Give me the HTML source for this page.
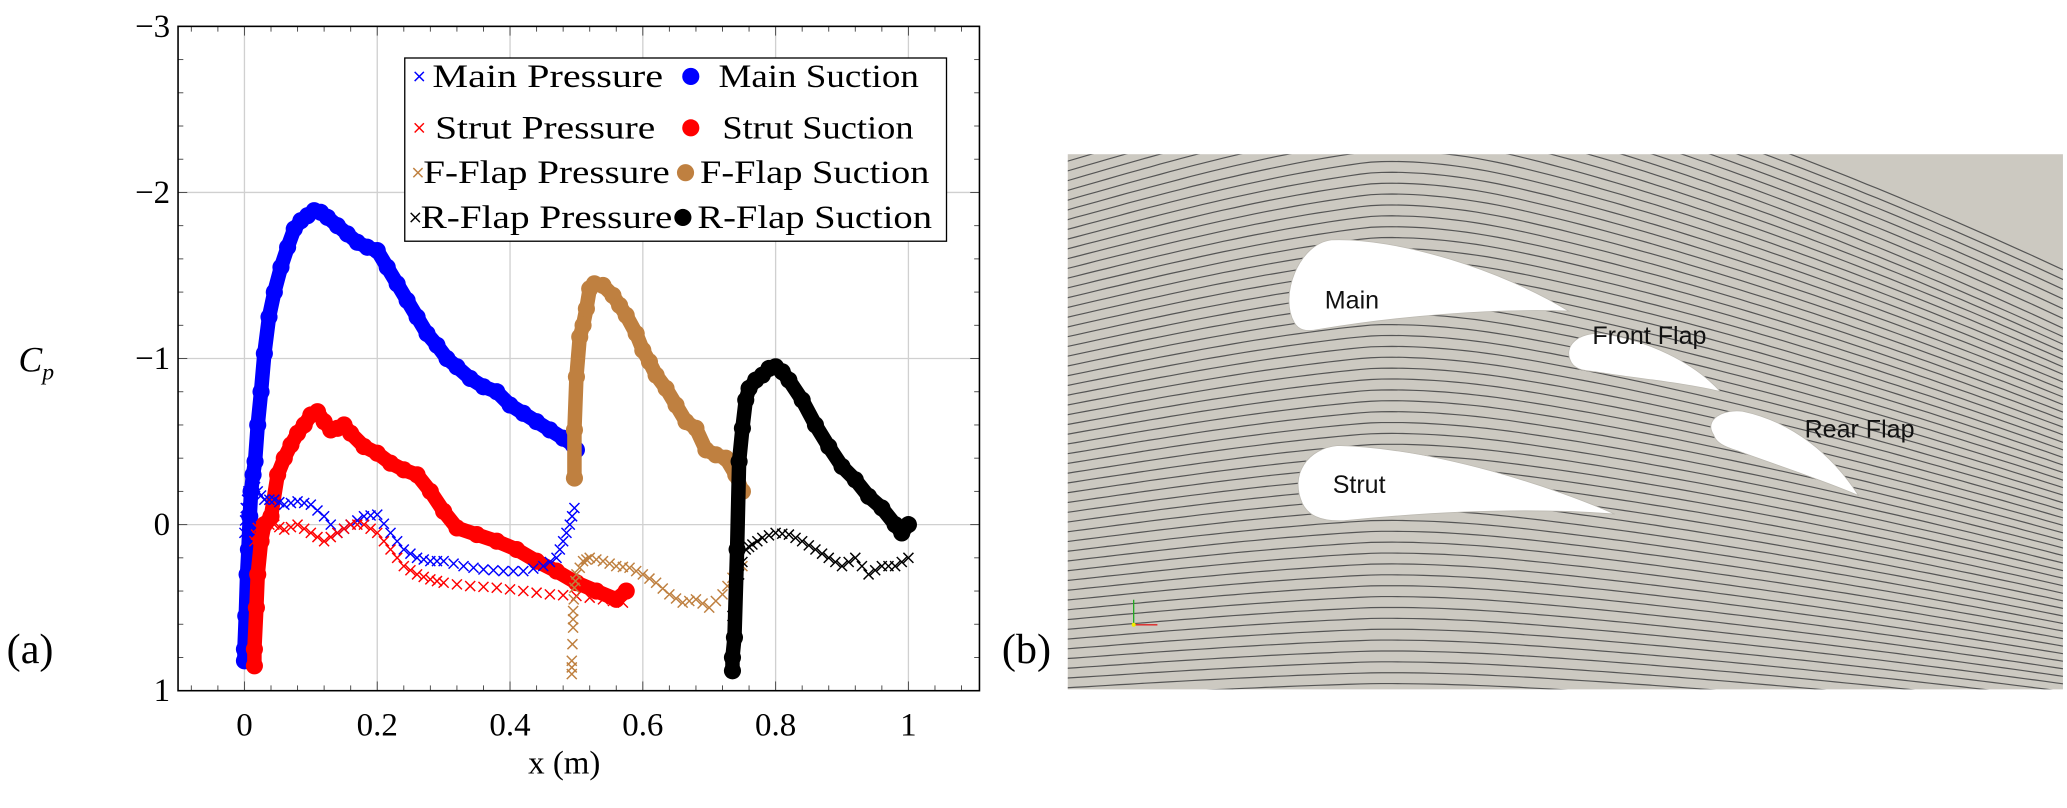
<!DOCTYPE html>
<html><head><meta charset="utf-8"><style>
html,body{margin:0;padding:0;background:#fff;overflow:hidden;width:2067px;height:808px;}
svg{display:block;}
.serif{font-family:"Liberation Serif",serif;}
.sans{font-family:"Liberation Sans",sans-serif;}
</style></head><body>
<svg id="fig" xmlns="http://www.w3.org/2000/svg" width="2067" height="808" viewBox="0 0 1568 613">
<g id="chart"></g>
<g id="flow"></g>
</svg>
<script>
// ---- chart data ----
const mainSucX=[0.000,0.000,0.002,0.004,0.006,0.008,0.010,0.013,0.016,0.020,0.025,0.030,0.037,0.045,0.055,0.065,0.075,0.085,0.095,0.105,0.115,0.125,0.140,0.155,0.170,0.185,0.200,0.215,0.230,0.245,0.260,0.275,0.290,0.305,0.320,0.340,0.360,0.380,0.400,0.420,0.440,0.460,0.480,0.495,0.500];
const mainSucY=[0.82,0.75,0.55,0.30,0.15,-0.05,-0.20,-0.30,-0.38,-0.60,-0.80,-1.03,-1.25,-1.40,-1.55,-1.67,-1.78,-1.83,-1.86,-1.89,-1.88,-1.85,-1.80,-1.75,-1.70,-1.67,-1.65,-1.55,-1.45,-1.35,-1.25,-1.15,-1.08,-1.00,-0.95,-0.88,-0.83,-0.80,-0.72,-0.67,-0.62,-0.57,-0.52,-0.48,-0.45];
const mainPreX=[0.000,0.002,0.006,0.012,0.020,0.030,0.045,0.060,0.080,0.100,0.120,0.140,0.160,0.180,0.200,0.220,0.240,0.260,0.280,0.300,0.330,0.360,0.390,0.420,0.450,0.470,0.480,0.490,0.497];
const mainPreY=[0.05,-0.10,-0.20,-0.25,-0.20,-0.15,-0.15,-0.12,-0.14,-0.12,-0.05,0.05,0.00,-0.05,-0.06,0.05,0.15,0.20,0.22,0.22,0.25,0.27,0.28,0.28,0.25,0.20,0.10,0.00,-0.10];
const strutSucX=[0.015,0.015,0.018,0.020,0.025,0.030,0.040,0.050,0.060,0.070,0.080,0.090,0.100,0.110,0.120,0.130,0.140,0.150,0.160,0.180,0.200,0.220,0.240,0.260,0.280,0.300,0.320,0.350,0.380,0.410,0.440,0.470,0.500,0.530,0.560,0.575];
const strutSucY=[0.85,0.75,0.50,0.30,0.10,0.00,-0.05,-0.30,-0.40,-0.48,-0.55,-0.60,-0.66,-0.68,-0.62,-0.57,-0.58,-0.60,-0.55,-0.47,-0.43,-0.37,-0.33,-0.30,-0.20,-0.08,0.02,0.06,0.10,0.15,0.22,0.28,0.35,0.40,0.45,0.40];
const strutPreX=[0.015,0.020,0.030,0.045,0.060,0.080,0.100,0.120,0.140,0.160,0.180,0.200,0.220,0.240,0.260,0.280,0.300,0.340,0.380,0.420,0.460,0.500,0.540,0.570];
const strutPreY=[0.10,0.02,0.00,0.00,0.03,0.00,0.05,0.10,0.05,0.00,0.00,0.05,0.15,0.25,0.30,0.33,0.35,0.37,0.38,0.40,0.42,0.43,0.45,0.47];
const fflapSucX=[0.497,0.497,0.500,0.505,0.510,0.515,0.520,0.527,0.540,0.555,0.565,0.575,0.590,0.600,0.610,0.620,0.635,0.650,0.665,0.680,0.695,0.710,0.725,0.740,0.750];
const fflapSucY=[-0.28,-0.57,-0.89,-1.13,-1.20,-1.30,-1.42,-1.45,-1.44,-1.38,-1.32,-1.26,-1.15,-1.05,-0.98,-0.90,-0.82,-0.72,-0.62,-0.58,-0.45,-0.42,-0.40,-0.30,-0.20];
const fflapPreX=[0.493,0.493,0.495,0.495,0.497,0.500,0.510,0.520,0.540,0.560,0.580,0.600,0.620,0.640,0.660,0.680,0.700,0.720,0.735,0.750];
const fflapPreY=[0.90,0.82,0.62,0.52,0.38,0.30,0.22,0.20,0.22,0.25,0.26,0.30,0.35,0.42,0.47,0.45,0.50,0.42,0.32,0.25];
const rflapSucX=[0.735,0.735,0.738,0.742,0.745,0.750,0.755,0.760,0.770,0.780,0.790,0.800,0.810,0.820,0.840,0.860,0.880,0.900,0.920,0.940,0.960,0.980,0.990,1.000];
const rflapSucY=[0.88,0.80,0.68,0.15,-0.38,-0.58,-0.75,-0.82,-0.87,-0.90,-0.94,-0.95,-0.92,-0.87,-0.75,-0.60,-0.47,-0.35,-0.27,-0.17,-0.10,0.00,0.05,0.00];
const rflapPreX=[0.735,0.745,0.755,0.765,0.780,0.800,0.820,0.840,0.860,0.880,0.900,0.920,0.940,0.960,0.980,1.000];
const rflapPreY=[0.55,0.30,0.15,0.12,0.08,0.05,0.06,0.10,0.15,0.20,0.25,0.20,0.30,0.25,0.25,0.20];
const xTicks=[0,0.2,0.4,0.6,0.8,1];
const xTickLabels=["0","0.2","0.4","0.6","0.8","1"];
const yTicks=[-3,-2,-1,0,1];
const yTickLabels=["\u22123","\u22122","\u22121","0","1"];
const legendLabels=["Main Pressure","Main Suction","Strut Pressure","Strut Suction","F-Flap Pressure","F-Flap Suction","R-Flap Pressure","R-Flap Suction"];

const NS="http://www.w3.org/2000/svg";
const L=135,R=743,T=20,B=524,XMIN=-0.1,XMAX=1.107,YMIN=-3,YMAX=1;
const sx=v=>L+(v-XMIN)/(XMAX-XMIN)*(R-L);
const sy=v=>T+(v-YMIN)/(YMAX-YMIN)*(B-T);
function mk(tag,attrs,parent){const e=document.createElementNS(NS,tag);for(const k in attrs)e.setAttribute(k,attrs[k]);parent.appendChild(e);return e;}
const chart=document.getElementById('chart');

xTicks.forEach(v=>{const g=mk('line',{x1:sx(v),x2:sx(v),y1:T,y2:B,stroke:'#d0d0d0','stroke-width':1},chart);

});
yTicks.forEach(v=>{const g=mk('line',{x1:L,x2:R,y1:sy(v),y2:sy(v),stroke:'#d0d0d0','stroke-width':1},chart);

});
for(let i=-2;i<=27;i++){const v=i*0.04;if(v<XMIN||v>XMAX)continue;const maj=Math.abs(v*5-Math.round(v*5))<1e-6;const len=maj?7:4;
mk('line',{x1:sx(v),x2:sx(v),y1:B,y2:B-len,stroke:'#444','stroke-width':0.7},chart);
mk('line',{x1:sx(v),x2:sx(v),y1:T,y2:T+len,stroke:'#444','stroke-width':0.7},chart);}
for(let i=-15;i<=5;i++){const v=i*0.2;const maj=Math.abs(v-Math.round(v))<1e-6;const len=maj?7:4;
mk('line',{x1:L,x2:L+len,y1:sy(v),y2:sy(v),stroke:'#444','stroke-width':0.7},chart);
mk('line',{x1:R,x2:R-len,y1:sy(v),y2:sy(v),stroke:'#444','stroke-width':0.7},chart);}

function cross(x,y,c,s,par){return mk('path',{d:`M${x-s},${y-s}L${x+s},${y+s}M${x-s},${y+s}L${x+s},${y-s}`,stroke:c,'stroke-width':1.1,fill:'none'},par);}
function drawSuction(xs,ys,c,name){const g=mk('g',{},chart);


mk('polyline',{points:xs.map((x,i)=>sx(x)+','+sy(ys[i])).join(' '),fill:'none',stroke:c,'stroke-width':11,'stroke-linejoin':'round','stroke-linecap':'round'},g);
xs.forEach((x,i)=>{const p=mk('circle',{cx:sx(x),cy:sy(ys[i]),r:6.5,fill:c},g);

});}
function drawPressure(xs,ys,c,name){const g=mk('g',{},chart);


xs.forEach((x,i)=>{const p=cross(sx(x),sy(ys[i]),c,3.8,g);


if(i<xs.length-1){const xm=(x+xs[i+1])/2,ym=(ys[i]+ys[i+1])/2;const q=cross(sx(xm),sy(ym),c,3.8,g);

}});}
const BLUE='#0000ff',RED='#ff0000',TAN='#bf8040',BLK='#000';
drawSuction(mainSucX,mainSucY,BLUE,'main-suction-series');
drawSuction(strutSucX,strutSucY,RED,'strut-suction-series');
drawPressure(mainPreX,mainPreY,BLUE,'main-pressure-series');
drawPressure(strutPreX,strutPreY,RED,'strut-pressure-series');
drawSuction(fflapSucX,fflapSucY,TAN,'fflap-suction-series');
drawPressure(fflapPreX,fflapPreY,TAN,'fflap-pressure-series');
drawSuction(rflapSucX,rflapSucY,BLK,'rflap-suction-series');
drawPressure(rflapPreX,rflapPreY,BLK,'rflap-pressure-series');

const fr=mk('rect',{x:L,y:T,width:R-L,height:B-T,fill:'none',stroke:'#000','stroke-width':1.2},chart);


xTicks.forEach((v,i)=>{const t=mk('text',{x:sx(v),y:B+34,'text-anchor':'middle','font-size':25,class:'serif'},chart);t.textContent=xTickLabels[i];

});
yTicks.forEach((v,i)=>{const t=mk('text',{x:L-6,y:sy(v)+8,'text-anchor':'end','font-size':25,class:'serif'},chart);t.textContent=yTickLabels[i];

});

// legend
const lg=mk('g',{},chart);


mk('rect',{x:307,y:44,width:411,height:139,fill:'#fff',stroke:'#000','stroke-width':1},lg);
const cols=[BLUE,RED,TAN,BLK];
const rowY=[58,97,131,165];
const crossX=[318,318,317,315];
const preX=[328,330,321,319], preW=[175,167,187,191];
const dotX=[524,524,520,518];
const sucX=[545,548,531,529], sucW=[152,145,174,178];
for(let r=0;r<4;r++){const y=rowY[r];
const c1=cross(crossX[r],y,cols[r],3.5,lg);


const t1=mk('text',{x:preX[r],y:y+8,'font-size':25,class:'serif',textLength:preW[r],lengthAdjust:'spacingAndGlyphs'},lg);t1.textContent=legendLabels[r*2];


const c2=mk('circle',{cx:dotX[r],cy:y,r:6.5,fill:cols[r]},lg);


const t2=mk('text',{x:sucX[r],y:y+8,'font-size':25,class:'serif',textLength:sucW[r],lengthAdjust:'spacingAndGlyphs'},lg);t2.textContent=legendLabels[r*2+1];

}

let t=mk('text',{x:14,y:282,'font-size':27,'font-style':'italic',class:'serif'},chart);t.innerHTML='C<tspan font-size="18" dy="6">p</tspan>';


t=mk('text',{x:428,y:587,'text-anchor':'middle','font-size':25,class:'serif'},chart);t.textContent='x (m)';


t=mk('text',{x:5,y:503,'font-size':32,class:'serif'},chart);t.textContent='(a)';


t=mk('text',{x:760,y:503,'font-size':32,class:'serif'},document.getElementById('flow'));t.textContent='(b)';



// ---- streamline panel ----
const flow=document.getElementById('flow');
const PX0=810,PX1=1565,PY0=117,PY1=523;
const clip=mk('clipPath',{id:'pc'},flow);mk('rect',{x:PX0,y:PY0,width:PX1-PX0,height:PY1-PY0},clip);
const bg=mk('rect',{x:PX0,y:PY0,width:PX1-PX0,height:PY1-PY0,fill:'#ccc9c1'},flow);


const sl=mk('g',{'clip-path':'url(#pc)',stroke:'#555','stroke-width':0.9,fill:'none'},flow);


for(let k=-6;k<62;k++){const y0=PY0+20+k*7.4;let d='';
const w=Math.max(0,Math.min(1,(560-y0)/420));
for(let x=PX0-10;x<=PX1+10;x+=8){const u=(x-PX0)/(PX1-PX0);
const rise=Math.sin(Math.min(u,0.45)/0.45*Math.PI/2);
const fall=u>0.3?Math.pow((u-0.3)/0.7,1.4):0;
const y=y0-(55*w+8)*rise+(150*w+25)*fall;
d+=(d?'L':'M')+x.toFixed(1)+','+y.toFixed(1);}
mk('path',{d},sl);}
function foil(d,name){const p=mk('path',{d,fill:'#fff',stroke:'#bdbab2','stroke-width':0.6},flow);

}
foil('M982,245 C970,225 985,185 1010,182 C1060,180 1140,205 1190,236 C1130,234 1060,240 1000,250 C990,252 985,250 982,245Z','main-airfoil');
foil('M1192,275 C1185,262 1198,252 1215,253 C1250,258 1285,275 1305,297 C1275,290 1240,287 1210,282 C1200,281 1195,280 1192,275Z','front-flap-airfoil');
foil('M1300,330 C1292,318 1308,310 1322,312 C1360,320 1390,345 1410,376 C1385,365 1345,352 1318,342 C1308,339 1302,336 1300,330Z','rear-flap-airfoil');
foil('M988,382 C978,360 992,340 1015,338 C1090,340 1180,370 1225,390 C1160,385 1090,388 1020,395 C1000,396 992,390 988,382Z','strut-airfoil');
function lab(x,y,s,name){const e=mk('text',{x,y,'font-size':19,class:'sans',fill:'#111'},flow);e.textContent=s;

}
lab(1005,234,'Main','main-label');lab(1208,261,'Front Flap','front-flap-label');lab(1369,332,'Rear Flap','rear-flap-label');lab(1011,374,'Strut','strut-label');
const tri=mk('g',{},flow);


mk('line',{x1:860,y1:474,x2:860,y2:455,stroke:'#2a2','stroke-width':1},tri);
mk('line',{x1:860,y1:474,x2:878,y2:474,stroke:'#d22','stroke-width':1},tri);
mk('circle',{cx:860,cy:474,r:1.5,fill:'#ee0'},tri);
</script>
</body></html>
